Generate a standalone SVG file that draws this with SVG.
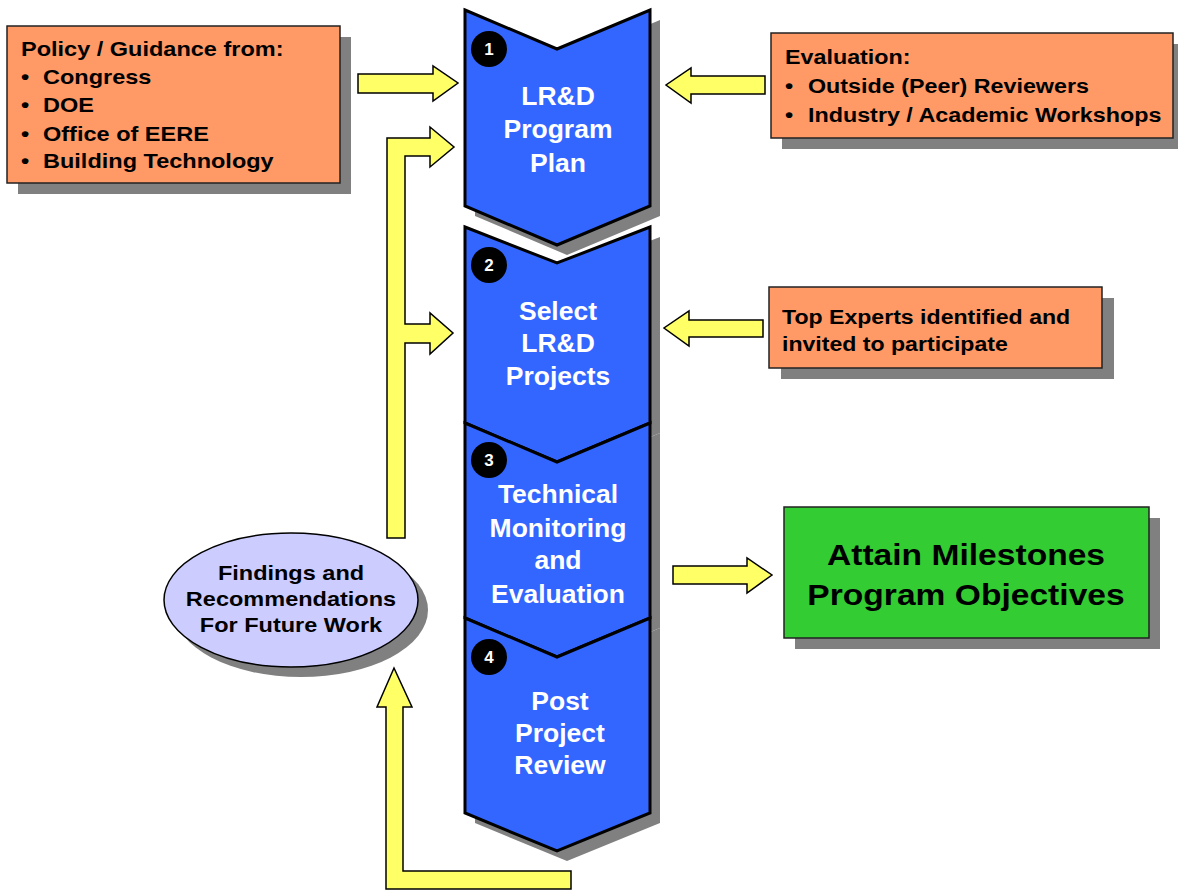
<svg xmlns="http://www.w3.org/2000/svg" width="1178" height="890" viewBox="0 0 1178 890">
<style>
.shadow{fill:#808080;stroke:none}
.box{fill:#FF9966;stroke:#222;stroke-width:1.5}
.chev{fill:#3366FF;stroke:#000;stroke-width:3;stroke-linejoin:miter}
.arrow{fill:#FFFF66;stroke:#000;stroke-width:1.5;stroke-linejoin:miter}
.t{font-family:"Liberation Sans",Arial,sans-serif;font-weight:bold;fill:#000}
.ob{font-size:21px}
.ct{font-size:25px;fill:#fff;text-anchor:middle}
.num{font-size:17px;fill:#fff;text-anchor:middle}
.el{font-size:21px;text-anchor:middle}
.gr{font-size:30px;text-anchor:middle}
</style>
<rect width="1178" height="890" fill="#fff"/>

<g id="connectors">
  <polygon class="arrow" points="358,74 433,74 433,66 458,83 433,101 433,93 358,93"/>
  <polygon class="arrow" points="765,76 691,76 691,68 666,85 691,103 691,94 765,94"/>
  <polygon class="arrow" points="763,320 689,320 689,311 664,328 689,346 689,337 763,337"/>
  <polygon class="arrow" points="673,566 747,566 747,558 772,575 747,593 747,584 673,584"/>
  <polygon class="arrow" points="387,538 387,138 430,138 430,127 454,147 430,167 430,156 405,156 405,324 430,324 430,313 453,333 430,354 430,343 405,343 405,538"/>
  <polygon class="arrow" points="571,871 403,871 403,707 412,707 394,668 377,707 386,707 386,889 571,889"/>
</g>

<g id="policy">
  <rect class="shadow" x="18" y="37" width="333" height="157"/>
  <rect class="box" x="7" y="26" width="333" height="157"/>
  <g class="t ob">
    <text transform="matrix(1.12 0 0 1 21 56)">Policy / Guidance from:</text>
    <text transform="matrix(1.12 0 0 1 21 84)">•</text>
    <text transform="matrix(1.12 0 0 1 43 84)">Congress</text>
    <text transform="matrix(1.12 0 0 1 21 112)">•</text>
    <text transform="matrix(1.12 0 0 1 43 112)">DOE</text>
    <text transform="matrix(1.12 0 0 1 21 141)">•</text>
    <text transform="matrix(1.12 0 0 1 43 141)">Office of EERE</text>
    <text transform="matrix(1.12 0 0 1 21 168)">•</text>
    <text transform="matrix(1.12 0 0 1 43 168)">Building Technology</text>
  </g>
</g>

<g id="evaluation">
  <rect class="shadow" x="782" y="44" width="402" height="105"/>
  <rect class="box" x="771" y="33" width="402" height="105"/>
  <g class="t ob">
    <text transform="matrix(1.11 0 0 1 785 64)">Evaluation:</text>
    <text transform="matrix(1.11 0 0 1 785 93)">•</text>
    <text transform="matrix(1.11 0 0 1 808 93)">Outside (Peer) Reviewers</text>
    <text transform="matrix(1.11 0 0 1 785 122)">•</text>
    <text transform="matrix(1.11 0 0 1 808 122)">Industry / Academic Workshops</text>
  </g>
</g>

<g id="experts">
  <rect class="shadow" x="781" y="298" width="333" height="81"/>
  <rect class="box" x="769" y="287" width="333" height="81"/>
  <g class="t ob">
    <text transform="matrix(1.1 0 0 1 782 324)">Top Experts identified and</text>
    <text transform="matrix(1.1 0 0 1 782 351)">invited to participate</text>
  </g>
</g>

<g id="chevron-shadows">
  <path class="shadow" d="M475,20 L567,59 L660,20 L660,216 L567,255 L475,216 Z"/>
  <path class="shadow" d="M475,237 L567,273 L660,237 L660,433 L567,472 L475,433 Z"/>
  <path class="shadow" d="M475,433 L567,472 L660,433 L660,628 L567,667 L475,628 Z"/>
  <path class="shadow" d="M475,628 L567,667 L660,628 L660,823 L567,861 L475,823 Z"/>
</g>

<g id="step1">
  <path class="chev" d="M465,10 L557,49 L650,10 L650,206 L557,245 L465,206 Z"/>
  <circle cx="489" cy="49" r="18" fill="#000"/>
  <text class="t num" x="489" y="55">1</text>
  <text class="t ct" transform="matrix(1.06 0 0 1 558 105)">LR&amp;D</text>
  <text class="t ct" transform="matrix(1.06 0 0 1 558 138)">Program</text>
  <text class="t ct" transform="matrix(1.06 0 0 1 558 172)">Plan</text>
</g>

<g id="step2">
  <path class="chev" d="M465,227 L557,263 L650,227 L650,423 L557,462 L465,423 Z"/>
  <circle cx="489" cy="265" r="18" fill="#000"/>
  <text class="t num" x="489" y="271">2</text>
  <text class="t ct" transform="matrix(1.06 0 0 1 558 320)">Select</text>
  <text class="t ct" transform="matrix(1.06 0 0 1 558 352)">LR&amp;D</text>
  <text class="t ct" transform="matrix(1.06 0 0 1 558 385)">Projects</text>
</g>

<g id="step3">
  <path class="chev" d="M465,423 L557,462 L650,423 L650,618 L557,657 L465,618 Z"/>
  <circle cx="489" cy="460" r="18" fill="#000"/>
  <text class="t num" x="489" y="466">3</text>
  <text class="t ct" transform="matrix(1.06 0 0 1 558 503)">Technical</text>
  <text class="t ct" transform="matrix(1.06 0 0 1 558 537)">Monitoring</text>
  <text class="t ct" transform="matrix(1.06 0 0 1 558 569)">and</text>
  <text class="t ct" transform="matrix(1.06 0 0 1 558 603)">Evaluation</text>
</g>

<g id="step4">
  <path class="chev" d="M465,618 L557,657 L650,618 L650,813 L557,851 L465,813 Z"/>
  <circle cx="489" cy="657" r="18" fill="#000"/>
  <text class="t num" x="489" y="663">4</text>
  <text class="t ct" transform="matrix(1.06 0 0 1 560 710)">Post</text>
  <text class="t ct" transform="matrix(1.06 0 0 1 560 742)">Project</text>
  <text class="t ct" transform="matrix(1.06 0 0 1 560 774)">Review</text>
</g>

<g id="findings">
  <ellipse class="shadow" cx="301" cy="610" rx="127" ry="67"/>
  <ellipse cx="291" cy="600" rx="127" ry="67" fill="#CCCCFF" stroke="#000" stroke-width="1.5"/>
  <g class="t el">
    <text transform="matrix(1.12 0 0 1 291 580)">Findings and</text>
    <text transform="matrix(1.12 0 0 1 291 606)">Recommendations</text>
    <text transform="matrix(1.12 0 0 1 291 632)">For Future Work</text>
  </g>
</g>

<g id="milestones">
  <rect class="shadow" x="795" y="518" width="365" height="131"/>
  <rect x="784" y="507" width="365" height="131" fill="#33CC33" stroke="#222" stroke-width="1.5"/>
  <g class="t gr">
    <text transform="matrix(1.12 0 0 1 966 565)">Attain Milestones</text>
    <text transform="matrix(1.12 0 0 1 966 605)">Program Objectives</text>
  </g>
</g>
</svg>
